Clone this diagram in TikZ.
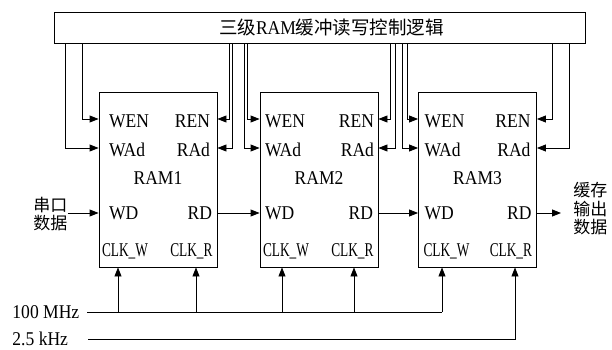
\documentclass[tikz,border=0pt]{standalone}
\usepackage{fontspec}
\setmainfont{Liberation Serif}[FakeStretch=0.9]
\newfontfamily\cjk{Noto Sans CJK SC}
\usetikzlibrary{arrows.meta}
\begin{document}
\begin{tikzpicture}[x=1pt,y=-1pt,
  line width=0.9pt,
  arr/.style={-{Triangle[length=9pt,width=7pt]}},
  ram/.style={draw, inner sep=0pt, minimum width=118pt, minimum height=175pt},
  lbl/.style={inner sep=0pt, font=\fontsize{19.5}{19.5}\selectfont},
  zh/.style={inner sep=0pt, align=left, font=\cjk\fontsize{17}{18.5}\selectfont}]
\useasboundingbox (0,0) rectangle (612,350);
% control logic box
\node[draw, inner sep=0pt, minimum width=531pt, minimum height=31pt] (ctrl) at (319.5,27.5) {};
\node[inner sep=0pt, font=\fontsize{19.5}{19.5}\selectfont] (title) at (331.5,28) {{\cjk\fontsize{18.5}{18.5}\selectfont 三级}RAM{\cjk\fontsize{18.5}{18.5}\selectfont 缓冲读写控制逻辑}};
% RAM boxes
\foreach \i/\cx/\lo/\ro/\co in {1/158/10/7/3, 2/319/5/4/3, 3/477.5/6/6/5} {
  \node[ram] (ram\i) at (\cx,179.5) {};
  \node[lbl, anchor=base west] (wen\i) at ([xshift=\lo pt,yshift=-36pt]ram\i.north west) {WEN};
  \node[lbl, anchor=base east] (ren\i) at ([xshift=-\ro pt,yshift=-36pt]ram\i.north east) {REN};
  \node[lbl, anchor=base west] (wad\i) at ([xshift=\lo pt,yshift=-65pt]ram\i.north west) {WAd};
  \node[lbl, anchor=base east] (rad\i) at ([xshift=-\ro pt,yshift=-65pt]ram\i.north east) {RAd};
  \node[lbl, anchor=base] (name\i) at ([yshift=-93pt]ram\i.north) {RAM\i};
  \node[lbl, anchor=base west] (wd\i) at ([xshift=\lo pt,yshift=-128pt]ram\i.north west) {WD};
  \node[lbl, anchor=base east] (rd\i) at ([xshift=-5pt,yshift=-128pt]ram\i.north east) {RD};
  \node[lbl, anchor=base west] (clkw\i) at ([xshift=\co pt,yshift=-165pt]ram\i.north west) {\scalebox{0.76}[1]{CLK\_W}};
  \node[lbl, anchor=base east] (clkr\i) at ([xshift=-4.5pt,yshift=-165pt]ram\i.north east) {\scalebox{0.76}[1]{CLK\_R}};
}
% control lines
\draw[arr] (65,0 |- ctrl.south) |- (ram1.west |- 0,148);
\draw[arr] (82,0 |- ctrl.south) |- (ram1.west |- 0,119);
\draw[arr] (229,0 |- ctrl.south) |- (ram1.east |- 0,119);
\draw[arr] (232.5,0 |- ctrl.south) |- (ram1.east |- 0,148);
\draw[arr] (244,0 |- ctrl.south) |- (ram2.west |- 0,148);
\draw[arr] (247.5,0 |- ctrl.south) |- (ram2.west |- 0,119);
\draw[arr] (390,0 |- ctrl.south) |- (ram2.east |- 0,119);
\draw[arr] (395,0 |- ctrl.south) |- (ram2.east |- 0,148);
\draw[arr] (402,0 |- ctrl.south) |- (ram3.west |- 0,148);
\draw[arr] (407,0 |- ctrl.south) |- (ram3.west |- 0,119);
\draw[arr] (552,0 |- ctrl.south) |- (ram3.east |- 0,119);
\draw[arr] (569,0 |- ctrl.south) |- (ram3.east |- 0,148);
% data path
\node[zh, anchor=west] (sin) at (33,214) {串口\\数据};
\node[zh, anchor=west] (sout) at (573,209) {缓存\\输出\\数据};
\coordinate (outend) at (561,213);
\draw[arr] (sin.east |- 0,213) -- (ram1.west |- 0,213);
\draw[arr] (ram1.east |- 0,213) -- (ram2.west |- 0,213);
\draw[arr] (ram2.east |- 0,213) -- (ram3.west |- 0,213);
\draw[arr] (ram3.east |- outend) -- (outend);
% clocks
\node[lbl, anchor=base west] (f100) at (12,318) {100 MHz};
\node[lbl, anchor=base west] (f25) at (12,345) {2.5 kHz};
\coordinate (a100) at (87,312);
\coordinate (b100) at (442,312);
\coordinate (a25) at (88,339.5);
\draw (a100) -- (b100);
\draw[arr] (118,0 |- a100) -- (118,0 |- ram1.south);
\draw[arr] (196,0 |- a100) -- (196,0 |- ram1.south);
\draw[arr] (282,0 |- a100) -- (282,0 |- ram2.south);
\draw[arr] (354,0 |- a100) -- (354,0 |- ram2.south);
\draw[arr] (b100) -- (b100 |- ram3.south);
\draw[arr] (a25) -| (515,0 |- ram3.south);
\end{tikzpicture}
\end{document}
